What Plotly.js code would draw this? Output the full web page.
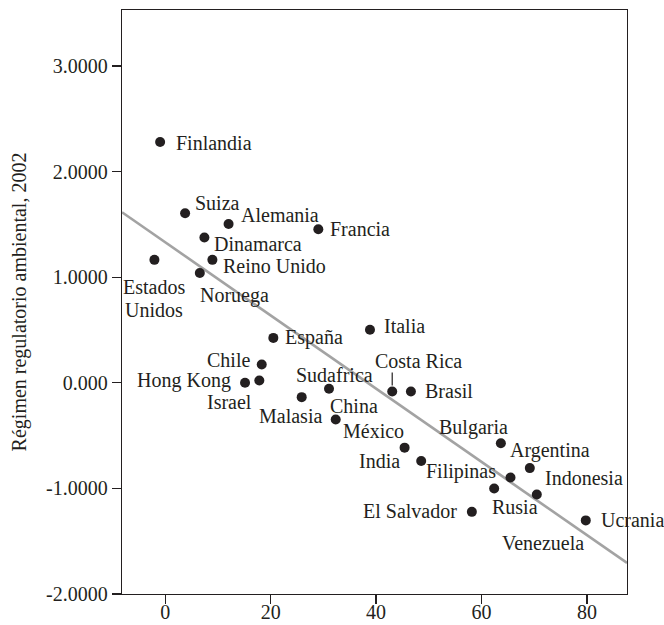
<!DOCTYPE html>
<html>
<head>
<meta charset="utf-8">
<script src="https://cdn.plot.ly/plotly-3.0.1.min.js"></script>
<style>
  html, body { margin: 0; padding: 0; background: #ffffff; }
  #chart { width: 664px; height: 625px; }
</style>
</head>
<body>
<div id="chart"></div>
<script>
// Countries and their values
const countries = [
  "Finlandia", "Suiza", "Alemania", "Francia", "Dinamarca", "Reino Unido",
  "Estados Unidos", "Noruega", "Italia", "España", "Chile", "Israel",
  "Hong Kong", "Sudafrica", "Malasia", "Costa Rica", "Brasil", "China",
  "México", "India", "Bulgaria", "Argentina", "Filipinas", "Rusia",
  "Indonesia", "El Salvador", "Ucrania"
];
const xValues = [
  -0.97, 3.77, 12.02, 29.04, 7.43, 8.95,
  -2.05, 6.56, 38.84, 20.51, 18.31, 17.85,
  15.14, 31.07, 25.89, 43.06, 46.61, 32.34,
  45.41, 48.56, 63.67, 69.16, 65.50, 62.40,
  70.49, 58.17, 79.78
];
const yValues = [
  2.280, 1.605, 1.504, 1.454, 1.375, 1.164,
  1.164, 1.039, 0.503, 0.425, 0.173, 0.022,
  0.000, -0.057, -0.136, -0.082, -0.082, -0.347,
  -0.614, -0.740, -0.572, -0.808, -0.897, -1.001,
  -1.058, -1.222, -1.303
];

// Fitted trend line (end points)
const fitX = [-8.2, 87.6];
const fitY = [1.615, -1.706];

// Axis ticks
const xTickValues = [0, 20, 40, 60, 80];
const yTickValues = [-2, -1, 0, 1, 2, 3];
const yTickLabels = ["-2.0000", "-1.0000", "0.000", "1.0000", "2.0000", "3.0000"];

const FONT = "'Liberation Serif', 'DejaVu Serif', serif";
const INK = "#231f20";

// Label placement: edge of the text anchored at an offset (px) from its point
const labelPlacement = {
  "Finlandia":      ["left", 14, 1],
  "Suiza":          ["left", 8, -10],
  "Alemania":       ["left", 10, -9],
  "Francia":        ["left", 10, 0],
  "Dinamarca":      ["left", 8, 6],
  "Reino Unido":    ["left", 9, 6],
  "Estados Unidos": ["center", 0, 39],
  "Noruega":        ["left", -2, 22],
  "Italia":         ["left", 12, -4],
  "España":         ["left", 10, 0],
  "Chile":          ["right", -10, -5],
  "Israel":         ["right", -5, 22],
  "Hong Kong":      ["right", -12, -2],
  "Sudafrica":      ["center", 5, -14],
  "Malasia":        ["center", -11, 19],
  "Costa Rica":     ["left", -19, -30],
  "Brasil":         ["left", 12, 0],
  "China":          ["center", 18, -13],
  "México":         ["right", 1, -17],
  "India":          ["right", -19, 0],
  "Bulgaria":       ["right", 9, -16],
  "Argentina":      ["left", -22, -18],
  "Filipinas":      ["right", -13, -6],
  "Rusia":          ["center", 21, 18],
  "Indonesia":      ["left", 6, -17],
  "El Salvador":    ["right", -13, -1],
  "Ucrania":        ["left", 13, 0]
};
const labelLines = { "Estados Unidos": ["Estados", "Unidos"] };
const LINE_GAP = 23;

const annotations = [];
countries.forEach((name, i) => {
  const [anchor, dx, dy] = labelPlacement[name];
  const lines = labelLines[name] || [name];
  lines.forEach((line, k) => {
    const offset = dy + (k - (lines.length - 1) / 2) * LINE_GAP;
    annotations.push({
      x: xValues[i], y: yValues[i], xref: "x", yref: "y",
      text: line, showarrow: false,
      xanchor: anchor, yanchor: "middle",
      xshift: dx, yshift: -offset,
      font: { family: FONT, size: 20, color: INK }
    });
  });
});

// Venezuela's label sits below the trend line at the lower right
annotations.push({
  x: 71.6, y: -1.52, xref: "x", yref: "y",
  text: "Venezuela", showarrow: false,
  xanchor: "center", yanchor: "middle",
  font: { family: FONT, size: 20, color: INK }
});

// Leader line from the Costa Rica label down to its point
const crIdx = countries.indexOf("Costa Rica");
const shapes = [{
  type: "line", xref: "x", yref: "y",
  ysizemode: "pixel", yanchor: yValues[crIdx],
  x0: xValues[crIdx], x1: xValues[crIdx],
  y0: 6, y1: 19,
  line: { color: INK, width: 1.2 }
}];

const traces = [
  {
    x: fitX, y: fitY, type: "scatter", mode: "lines",
    line: { color: "#a3a3a3", width: 2.6 },
    hoverinfo: "skip", showlegend: false
  },
  {
    x: xValues, y: yValues, text: countries, type: "scatter", mode: "markers",
    marker: { color: INK, size: 10, line: { width: 0 } },
    showlegend: false
  }
];

const axisCommon = {
  showgrid: false, zeroline: false,
  showline: true, mirror: true, linecolor: INK, linewidth: 1.3,
  ticks: "outside", ticklen: 9, tickwidth: 1.3, tickcolor: INK,
  tickfont: { family: FONT, size: 20, color: INK }
};

const layout = {
  width: 664, height: 625,
  margin: { l: 122, r: 37, t: 10, b: 31 },
  paper_bgcolor: "#ffffff", plot_bgcolor: "#ffffff",
  xaxis: Object.assign({}, axisCommon, {
    range: [-8.2, 87.6], tickvals: xTickValues,
    ticklabelstandoff: -9
  }),
  yaxis: Object.assign({}, axisCommon, {
    range: [-2, 3.53], tickvals: yTickValues, ticktext: yTickLabels,
    title: { text: "Régimen regulatorio ambiental, 2002", standoff: 14,
             font: { family: FONT, size: 20, color: INK } }
  }),
  annotations: annotations,
  shapes: shapes
};

Plotly.newPlot("chart", traces, layout, { displayModeBar: false, staticPlot: true });
</script>
</body>
</html>
